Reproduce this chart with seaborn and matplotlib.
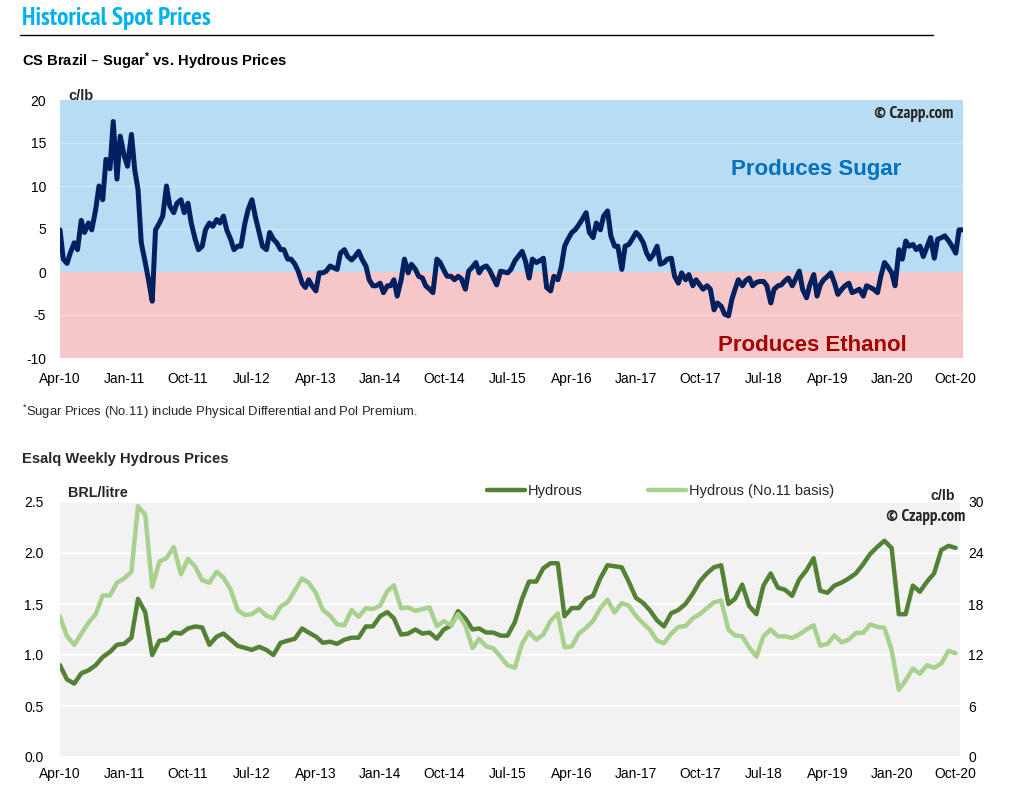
import os
import numpy as np
import pandas as pd
import matplotlib
matplotlib.use("Agg")
import matplotlib.pyplot as plt
from matplotlib.lines import Line2D
from matplotlib.ticker import FormatStrFormatter
from matplotlib import font_manager as fm
import seaborn as sns

# ---------------- data ----------------
tick_labels = ["Apr-10", "Jan-11", "Oct-11", "Jul-12", "Apr-13", "Jan-14", "Oct-14",
               "Jul-15", "Apr-16", "Jan-17", "Oct-17", "Jul-18", "Apr-19", "Jan-20", "Oct-20"]

# Sugar minus hydrous spread (c/lb), semi-monthly from Apr-2010
sugar_vs_hydrous = [
    4.9, 1.5, 1.0, 2.2, 3.4, 2.6, 6.0, 4.6, 5.7, 4.9,
    7.3, 10.0, 8.4, 13.1, 12.0, 17.5, 10.8, 15.8, 13.5, 12.3,
    16.0, 11.9, 9.6, 3.4, 1.1, -0.9, -3.4, 4.9, 5.7, 6.5,
    10.0, 7.7, 6.9, 8.0, 8.4, 6.9, 8.0, 5.7, 3.8, 2.6,
    3.0, 4.9, 5.7, 5.3, 6.1, 5.7, 6.5, 4.9, 3.8, 2.6,
    3.0, 3.0, 5.7, 7.3, 8.4, 6.5, 4.6, 3.0, 2.6, 4.6,
    3.8, 3.4, 2.6, 2.6, 1.5, 1.5, 0.9, 0.1, -1.3, -1.8,
    -0.9, -1.6, -2.2, -0.1, -0.1, 0.1, 0.7, 0.5, 0.3, 2.2,
    2.6, 1.8, 1.4, 1.8, 2.4, 1.5, 0.7, -0.9, -1.6, -1.6,
    -1.3, -2.4, -1.6, -1.6, -0.9, -2.8, -0.9, 1.5, -0.1, 0.9,
    0.3, -0.5, -0.7, -1.6, -2.0, -2.4, 1.5, 1.1, 0.2, -0.5,
    -0.5, -0.9, -0.5, -0.8, -2.0, 0.1, 0.6, 1.1, -0.1, 0.5,
    0.7, 0.2, -0.7, -1.5, 0.1, 0.0, -0.1, 0.3, 1.3, 1.8,
    2.4, 1.3, -0.7, 1.5, 1.1, 1.3, 1.6, -1.8, -2.2, -0.5,
    -0.9, 0.5, 3.0, 3.8, 4.6, 4.9, 5.5, 6.1, 6.9, 4.6,
    4.0, 5.7, 4.9, 6.5, 7.1, 4.2, 3.0, 3.0, 0.3, 3.0,
    3.2, 3.8, 4.6, 4.2, 3.4, 2.2, 1.5, 2.0, 3.0, 0.9,
    1.1, 1.5, 1.6, -0.5, -1.3, -0.1, -0.9, -0.3, -1.6, -0.9,
    -1.5, -2.0, -1.6, -2.0, -4.4, -3.6, -4.0, -4.9, -5.1, -3.2,
    -2.0, -0.9, -1.6, -1.0, -0.7, -1.6, -1.2, -1.1, -1.1, -1.6,
    -3.6, -2.0, -1.6, -1.5, -1.0, -0.7, -1.6, -0.8, 0.1, -2.0,
    -3.0, -1.5, -0.3, -2.8, -1.5, -0.9, -0.5, -0.1, -1.3, -2.6,
    -2.0, -1.6, -1.3, -2.4, -2.2, -2.0, -2.8, -1.6, -1.8, -2.0,
    -2.4, -0.5, 1.1, 0.6, -0.1, -1.6, 2.6, 1.5, 3.6, 3.0,
    3.2, 2.6, 3.0, 1.8, 3.0, 4.0, 1.6, 3.8, 4.0, 4.2,
    3.6, 3.0, 2.2, 4.9, 4.9,
]

# Esalq hydrous (BRL/litre), monthly from Apr-2010
hydrous_brl = [
    0.90, 0.76, 0.72, 0.82, 0.85, 0.90, 0.98, 1.03, 1.10, 1.11,
    1.17, 1.55, 1.42, 1.00, 1.14, 1.15, 1.22, 1.21, 1.26, 1.28,
    1.27, 1.10, 1.18, 1.21, 1.15, 1.09, 1.07, 1.05, 1.08, 1.05,
    1.00, 1.12, 1.14, 1.16, 1.26, 1.22, 1.18, 1.12, 1.13, 1.11,
    1.15, 1.17, 1.17, 1.28, 1.28, 1.38, 1.42, 1.36, 1.20, 1.21,
    1.25, 1.21, 1.22, 1.16, 1.25, 1.29, 1.43, 1.36, 1.25, 1.26,
    1.22, 1.22, 1.19, 1.19, 1.32, 1.55, 1.72, 1.72, 1.85, 1.90,
    1.90, 1.38, 1.46, 1.46, 1.55, 1.58, 1.75, 1.88, 1.87, 1.86,
    1.72, 1.56, 1.51, 1.44, 1.34, 1.28, 1.41, 1.44, 1.50, 1.60,
    1.72, 1.80, 1.86, 1.88, 1.50, 1.55, 1.69, 1.48, 1.40, 1.68,
    1.80, 1.66, 1.64, 1.58, 1.74, 1.83, 1.95, 1.63, 1.61, 1.68,
    1.71, 1.75, 1.80, 1.89, 1.99, 2.06, 2.12, 2.05, 1.40, 1.40,
    1.68, 1.62, 1.72, 1.80, 2.03, 2.07, 2.05,
]

# Hydrous on No.11 basis (c/lb), monthly from Apr-2010
hydrous_no11 = [
    16.5, 14.2, 13.2, 14.5, 15.8, 16.8, 19.0, 19.0, 20.5, 21.0,
    21.8, 29.5, 28.5, 20.0, 23.0, 23.4, 24.7, 21.5, 23.3, 22.4,
    20.8, 20.5, 21.8, 21.1, 19.7, 17.3, 16.7, 16.8, 17.4, 16.6,
    16.3, 17.7, 18.2, 19.6, 21.0, 20.5, 19.3, 17.3, 16.6, 15.6,
    15.5, 17.3, 16.5, 17.5, 17.4, 17.8, 19.5, 20.2, 17.5, 17.6,
    17.2, 17.4, 17.6, 15.4, 16.0, 15.5, 16.8, 15.5, 12.8, 13.9,
    13.0, 12.8, 11.8, 10.8, 10.5, 13.3, 14.7, 13.8, 14.4, 16.0,
    16.9, 12.9, 13.0, 14.5, 15.2, 16.0, 17.5, 18.5, 17.0, 18.1,
    17.8, 16.6, 15.7, 15.0, 13.7, 13.4, 14.5, 15.3, 15.4, 16.3,
    16.8, 17.5, 18.2, 18.4, 15.0, 14.3, 14.2, 12.9, 11.8, 14.2,
    15.0, 14.2, 14.2, 14.0, 14.4, 15.0, 15.5, 13.1, 13.3, 14.3,
    13.5, 13.8, 14.6, 14.6, 15.6, 15.3, 15.2, 12.6, 7.9, 9.0,
    10.4, 9.8, 10.8, 10.5, 11.0, 12.5, 12.2,
]

top_dates = pd.date_range("2010-04-01", periods=len(sugar_vs_hydrous), freq="SMS")
hyd_dates = pd.date_range("2010-04-01", periods=len(hydrous_brl), freq="MS")
tick_dates = pd.to_datetime(tick_labels, format="%b-%y")

# ---------------- style ----------------
sns.set_theme(style="white")
plt.rcParams["font.family"] = ["Liberation Sans", "DejaVu Sans"]
plt.rcParams["mathtext.default"] = "regular"
plt.rcParams["axes.unicode_minus"] = False


def find_font(patterns):
    for pat in patterns:
        for f in fm.fontManager.ttflist:
            fn = os.path.basename(f.fname).lower()
            if "italic" in fn or "oblique" in fn:
                continue
            if all(p in fn for p in pat):
                return f.fname
    return None


cond_bold_path = find_font([("narrow", "bold"), ("condensed", "bold")])


def cond_props(size):
    if cond_bold_path:
        return fm.FontProperties(fname=cond_bold_path, size=size)
    return fm.FontProperties(family="Liberation Sans", weight="bold", size=size)


W, H = 1012, 809
fig = plt.figure(figsize=(W / 100, H / 100), dpi=100)
fig.patch.set_facecolor("white")


def fit_width(txt, target_px, max_size):
    fig.canvas.draw()
    w = txt.get_window_extent().width
    if w > 0:
        txt.set_fontsize(min(max_size, txt.get_fontsize() * target_px / w))


# header
title = fig.text(22 / W, 1 - 19 / H, "Historical Spot Prices", fontproperties=cond_props(16),
                 color="#00B0F0", va="center", ha="left")
fit_width(title, 189, 19)
fig.add_artist(Line2D([20 / W, 933 / W], [1 - 35 / H, 1 - 35 / H], color="black", lw=1))
fig.text(22 / W, 1 - 61 / H, "CS Brazil – Sugar$^{*}$ vs. Hydrous Prices", fontweight="bold",
         fontsize=10.6, color="black", va="center", ha="left")

# ---------------- top chart ----------------
ax1 = fig.add_axes([60 / W, 1 - 358 / H, (963 - 60) / W, (358 - 100) / H])
ax1.axhspan(0, 20, color="#B7DCF4", lw=0, zorder=0)
ax1.axhspan(-10, 0, color="#F6C7C8", lw=0, zorder=0)
for v in [-5, 5, 10, 15]:
    ax1.axhline(v, color="white", alpha=0.35, lw=1, zorder=1)
sns.lineplot(x=top_dates, y=sugar_vs_hydrous, ax=ax1, color="#002060", linewidth=3.6,
             estimator=None, zorder=3)
for ln in ax1.lines[-1:]:
    ln.set_solid_joinstyle("round")
    ln.set_solid_capstyle("round")
ax1.set_xlim(top_dates[0], top_dates[-1])
ax1.set_ylim(-10, 20)
ax1.set_yticks(range(-10, 21, 5))
ax1.set_xticks(tick_dates)
ax1.set_xticklabels(tick_labels)
ax1.tick_params(axis="both", length=0, labelsize=10, labelcolor="black")
ax1.tick_params(axis="y", pad=10)
ax1.tick_params(axis="x", pad=10)
ax1.set_xlabel("")
ax1.set_ylabel("")
for s in ax1.spines.values():
    s.set_visible(False)

fig.text(68 / W, 1 - 96 / H, "c/lb", fontweight="bold", fontsize=10.5, va="center", ha="left")
cz1 = fig.text(953 / W, 1 - 114 / H, "© Czapp.com", fontproperties=cond_props(10),
               va="center", ha="right")
fit_width(cz1, 80, 12.5)
ax1.text(0.837, 0.73, "Produces Sugar", transform=ax1.transAxes, fontweight="bold",
         fontsize=16, color="#0070C0", ha="center", va="center")
ax1.text(0.833, 0.05, "Produces Ethanol", transform=ax1.transAxes, fontweight="bold",
         fontsize=16, color="#A50000", ha="center", va="center")

fig.text(22 / W, 1 - 412 / H, "$^{*}$Sugar Prices (No.11) include Physical Differential and Pol Premium.",
         fontsize=9.4, va="center", ha="left")

# ---------------- bottom chart ----------------
fig.text(22 / W, 1 - 459 / H, "Esalq Weekly Hydrous Prices", fontweight="bold",
         fontsize=10.6, va="center", ha="left")

ax2 = fig.add_axes([60 / W, 1 - 757 / H, (960 - 60) / W, (757 - 502) / H])
ax2.set_facecolor("#F2F2F2")
ax2.set_ylim(0, 2.5)
ax2.set_yticks(np.arange(0, 2.51, 0.5))
ax2.yaxis.set_major_formatter(FormatStrFormatter("%.1f"))
ax2.grid(axis="y", color="white", lw=1.3)
ax2.grid(axis="x", visible=False)
ax2.set_axisbelow(True)
sns.lineplot(x=hyd_dates, y=hydrous_brl, ax=ax2, color="#548235", linewidth=3.2,
             estimator=None, label="Hydrous", legend=False)
ax2.set_xlim(pd.Timestamp("2010-04-01"), pd.Timestamp("2020-10-20"))
ax2.set_xticks(tick_dates)
ax2.set_xticklabels(tick_labels)
ax2.tick_params(axis="both", length=0, labelsize=10, labelcolor="black")
ax2.tick_params(axis="y", pad=12)
ax2.tick_params(axis="x", pad=7)
ax2.set_xlabel("")
ax2.set_ylabel("")

ax3 = ax2.twinx()
sns.lineplot(x=hyd_dates, y=hydrous_no11, ax=ax3, color="#A9D18E", linewidth=3.2,
             estimator=None, label="Hydrous (No.11 basis)", legend=False)
ax3.set_ylim(0, 30)
ax3.set_yticks(range(0, 31, 6))
ax3.tick_params(axis="y", length=0, labelsize=10, labelcolor="black", pad=6)
ax3.set_ylabel("")
ax3.grid(False)
for a in (ax2, ax3):
    for s in a.spines.values():
        s.set_visible(False)
    for ln in a.lines:
        ln.set_solid_joinstyle("round")
        ln.set_solid_capstyle("round")

h1, l1 = ax2.get_legend_handles_labels()
h2, l2 = ax3.get_legend_handles_labels()
fig.legend(h1 + h2, l1 + l2, loc="center left", bbox_to_anchor=(487 / W, 1 - 491 / H),
           bbox_transform=fig.transFigure, ncol=2, frameon=False, handlelength=2.6,
           handletextpad=0.2, columnspacing=4.5, borderpad=0, borderaxespad=0, fontsize=10.5)

fig.text(68 / W, 1 - 493 / H, "BRL/litre", fontweight="bold", fontsize=10.3, va="center", ha="left")
fig.text(955 / W, 1 - 496 / H, "c/lb", fontweight="bold", fontsize=10.3, va="center", ha="right")
cz2 = fig.text(965 / W, 1 - 517 / H, "© Czapp.com", fontproperties=cond_props(10),
               va="center", ha="right")
fit_width(cz2, 80, 12.5)

fig.savefig("out.png", dpi=100, facecolor="white")
